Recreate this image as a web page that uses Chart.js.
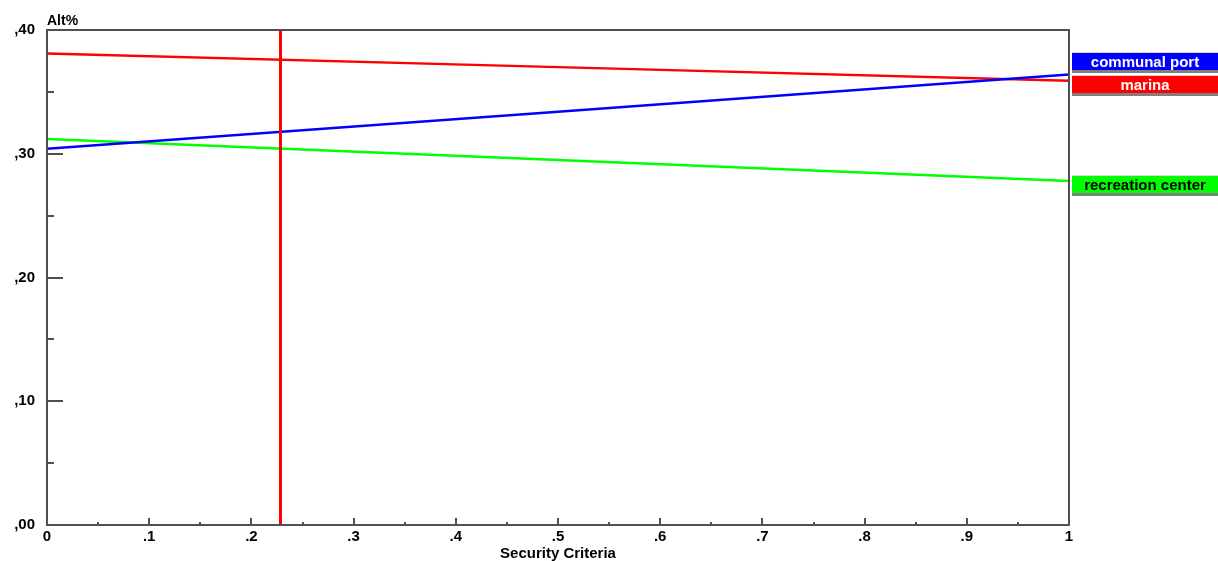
<!DOCTYPE html>
<html>
<head>
<meta charset="utf-8">
<script src="https://cdn.jsdelivr.net/npm/chart.js@4/dist/chart.umd.min.js"></script>
<style>
  html, body { margin: 0; padding: 0; background: #fff; }
  canvas { display: block; }
</style>
</head>
<body>
<canvas id="sens" width="1218" height="561"></canvas>
<script>
// weights of the "Security Criteria" (x) and resulting alternative shares (y)
var weights = [0, 0.5, 1];
var communalPort = [0.304, 0.334, 0.364];
var marina = [0.381, 0.370, 0.359];
var recreationCenter = [0.312, 0.295, 0.278];
var seriesNames = ['communal port', 'marina', 'recreation center'];
var seriesColors = ['#0000ff', '#ff0000', '#00ff00'];
var labelTextColors = ['#ffffff', '#ffffff', '#000000'];
var currentWeight = 0.228;
var xTickLabels = ['0', '.1', '.2', '.3', '.4', '.5', '.6', '.7', '.8', '.9', '1'];
var yTickLabels = [',00', ',10', ',20', ',30', ',40'];

var FONT = '"Liberation Sans", Arial, sans-serif';

function toPoints(vals) {
    return vals.map(function (v, i) { return { x: weights[i], y: v }; });
}

var allSeries = [communalPort, marina, recreationCenter];
var datasets = allSeries.map(function (vals, i) {
    return {
        label: seriesNames[i],
        data: toPoints(vals),
        borderColor: seriesColors[i],
        borderWidth: 2.5,
        pointRadius: 0,
        fill: false,
        tension: 0
    };
});

// box, inner tick marks, titles, current-weight line and end labels
var decorations = {
    id: 'decorations',
    afterDraw: function (chart) {
        var ctx = chart.ctx;
        var a = chart.chartArea;
        var xs = chart.scales.x, ys = chart.scales.y;
        ctx.save();

        // vertical line for the current weight
        var vx = Math.round(xs.getPixelForValue(currentWeight)) + 0.5;
        ctx.strokeStyle = '#ff0000';
        ctx.lineWidth = 3;
        ctx.beginPath();
        ctx.moveTo(vx, a.top);
        ctx.lineTo(vx, a.bottom);
        ctx.stroke();

        // plot frame
        ctx.strokeStyle = '#505050';
        ctx.lineWidth = 2;
        ctx.strokeRect(a.left, a.top, a.right - a.left, a.bottom - a.top);

        // y ticks (inside)
        for (var v = 0.05; v < 0.4; v += 0.05) {
            var py = Math.round(ys.getPixelForValue(v));
            var major = Math.abs(v * 10 - Math.round(v * 10)) < 1e-6;
            ctx.beginPath();
            ctx.moveTo(a.left, py);
            ctx.lineTo(a.left + (major ? 16 : 7), py);
            ctx.stroke();
        }
        // x ticks (inside, upward)
        for (var w = 0.05; w < 1; w += 0.05) {
            var px = Math.round(xs.getPixelForValue(w));
            var maj = Math.abs(w * 10 - Math.round(w * 10)) < 1e-6;
            ctx.beginPath();
            ctx.moveTo(px, a.bottom);
            ctx.lineTo(px, a.bottom - (maj ? 7 : 3));
            ctx.stroke();
        }

        // titles
        ctx.fillStyle = '#000';
        ctx.textBaseline = 'alphabetic';
        ctx.textAlign = 'left';
        ctx.font = 'bold 14px ' + FONT;
        ctx.fillText('Alt%', a.left, 25);
        ctx.textAlign = 'center';
        ctx.font = 'bold 15px ' + FONT;
        ctx.fillText('Security Criteria', (a.left + a.right) / 2, 558);

        // end-of-line labels, pushed apart when they overlap
        var boxH = 20, gap = 3;
        var items = allSeries.map(function (vals, i) {
            return { i: i, y: ys.getPixelForValue(vals[vals.length - 1]) - 5 };
        });
        items.sort(function (p, q) { return q.y - p.y; });
        for (var k = 1; k < items.length; k++) {
            if (items[k].y > items[k - 1].y - boxH - gap) {
                items[k].y = items[k - 1].y - boxH - gap;
            }
        }
        ctx.font = 'bold 15px ' + FONT;
        ctx.textAlign = 'center';
        ctx.textBaseline = 'middle';
        items.forEach(function (it) {
            var bx = a.right + 3, by = Math.round(it.y), bw = chart.width - bx;
            ctx.fillStyle = '#d8d8d8';
            ctx.fillRect(bx, by - 1, bw, 1);
            ctx.fillStyle = '#808080';
            ctx.fillRect(bx, by + boxH - 3, bw, 3);
            ctx.fillStyle = seriesColors[it.i];
            ctx.fillRect(bx, by, bw, boxH - 3);
            ctx.fillStyle = labelTextColors[it.i];
            ctx.fillText(seriesNames[it.i], bx + 73, by + (boxH - 3) / 2 + 1);
        });

        ctx.restore();
    }
};

var chart = new Chart(document.getElementById('sens').getContext('2d'), {
    type: 'line',
    data: { datasets: datasets },
    plugins: [decorations],
    options: {
        responsive: false,
        animation: false,
        devicePixelRatio: 1,
        layout: { padding: { top: 30, right: 149, left: 0, bottom: 0 } },
        plugins: { legend: { display: false }, tooltip: { enabled: false } },
        scales: {
            x: {
                type: 'linear',
                min: 0,
                max: 1,
                afterFit: function (s) { s.height = 36; },
                afterBuildTicks: function (s) {
                    s.ticks = xTickLabels.map(function (t, i) { return { value: i / 10 }; });
                },
                grid: { display: false, drawTicks: false },
                border: { display: false },
                ticks: {
                    padding: 3,
                    color: '#000',
                    maxRotation: 0,
                    autoSkip: false,
                    font: { family: FONT, size: 15, weight: 'bold' },
                    callback: function (v, i) { return xTickLabels[i]; }
                }
            },
            y: {
                min: 0,
                max: 0.4,
                afterFit: function (s) { s.width = 47; },
                afterBuildTicks: function (s) {
                    s.ticks = yTickLabels.map(function (t, i) { return { value: i / 10 }; });
                },
                grid: { display: false, drawTicks: false },
                border: { display: false },
                ticks: {
                    padding: 12,
                    color: '#000',
                    autoSkip: false,
                    font: { family: FONT, size: 15, weight: 'bold' },
                    callback: function (v, i) { return yTickLabels[i]; }
                }
            }
        }
    }
});
</script>
</body>
</html>
